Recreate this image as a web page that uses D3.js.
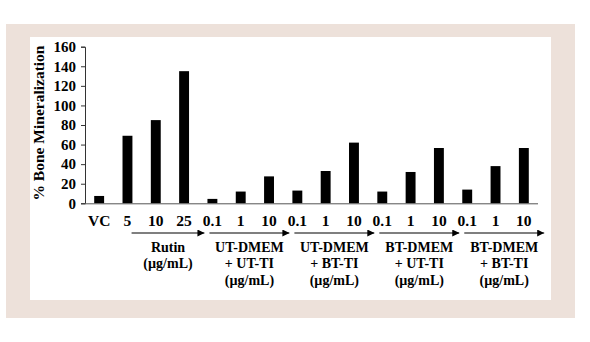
<!DOCTYPE html>
<html>
<head>
<meta charset="utf-8">
<script src="https://cdn.jsdelivr.net/npm/d3@7"></script>
<style>
  html, body { margin: 0; padding: 0; background: #ffffff; }
  svg { display: block; }
  text { font-family: "Liberation Serif", "Times New Roman", serif; font-weight: bold; fill: #000; }
</style>
</head>
<body>
<svg id="chart" width="590" height="342"></svg>
<script>
// Treatments along the x axis (ids are unique, labels are what is printed)
const categoryIds = ["VC", "R5", "R10", "R25",
  "UU0.1", "UU1", "UU10",
  "UB0.1", "UB1", "UB10",
  "BU0.1", "BU1", "BU10",
  "BB0.1", "BB1", "BB10"];
const categoryLabels = ["VC", "5", "10", "25",
  "0.1", "1", "10",
  "0.1", "1", "10",
  "0.1", "1", "10",
  "0.1", "1", "10"];
// % bone mineralization per treatment
const mineralization = [7.5, 69, 85, 135,
  4.5, 12, 27.5,
  13, 33, 62,
  12, 32, 56.5,
  14, 38, 56.5];
const yTicks = [0, 20, 40, 60, 80, 100, 120, 140, 160];
// Dose groups drawn with an arrow under their tick labels
const groups = [
  { first: "R5",    last: "R25",  lines: ["Rutin", "(\u00b5g/mL)"] },
  { first: "UU0.1", last: "UU10", lines: ["UT-DMEM", "+ UT-TI", "(\u00b5g/mL)"] },
  { first: "UB0.1", last: "UB10", lines: ["UT-DMEM", "+ BT-TI", "(\u00b5g/mL)"] },
  { first: "BU0.1", last: "BU10", lines: ["BT-DMEM", "+ UT-TI", "(\u00b5g/mL)"] },
  { first: "BB0.1", last: "BB10", lines: ["BT-DMEM", "+ BT-TI", "(\u00b5g/mL)"] }
];

const svg = d3.select("#chart");

// framed panel
svg.append("rect").attr("x", 6).attr("y", 24).attr("width", 569).attr("height", 294).attr("fill", "#ede1da");
svg.append("rect").attr("x", 30).attr("y", 37).attr("width", 521).attr("height", 263).attr("fill", "#ffffff");

const plot = { left: 85, right: 538, top: 46.7, bottom: 203.3 };

const x = d3.scaleBand()
  .domain(categoryIds)
  .range([plot.left, plot.right])
  .paddingInner(0.65)
  .paddingOuter(0.325);

const y = d3.scaleLinear()
  .domain([0, 160])
  .range([plot.bottom, plot.top]);

// bars
svg.append("g").selectAll("rect")
  .data(mineralization)
  .join("rect")
  .attr("x", (d, i) => x(categoryIds[i]))
  .attr("y", d => y(d))
  .attr("width", x.bandwidth())
  .attr("height", d => y(0) - y(d))
  .attr("fill", "#000");

// y axis
const yAxis = svg.append("g")
  .attr("transform", `translate(${plot.left},0)`)
  .call(d3.axisLeft(y).tickValues(yTicks).tickSize(4).tickPadding(5));
yAxis.selectAll("path, line").attr("stroke", "#333").attr("stroke-width", 1);
yAxis.selectAll("text")
  .style("font-family", "'Liberation Serif', 'Times New Roman', serif")
  .style("font-weight", "bold")
  .style("font-size", "15px")
  .attr("fill", "#000");

// x axis: baseline with the treatment labels below
const xAxis = svg.append("g")
  .attr("transform", `translate(0,${plot.bottom})`)
  .call(d3.axisBottom(x).tickSize(0).tickPadding(12)
    .tickFormat((d, i) => categoryLabels[i]));
xAxis.select(".domain").attr("stroke", "#555").attr("stroke-width", 1)
  .attr("d", `M${plot.left},0.5H${plot.right}`);
xAxis.selectAll("text")
  .style("font-family", "'Liberation Serif', 'Times New Roman', serif")
  .style("font-weight", "bold")
  .style("font-size", "15.5px")
  .attr("fill", "#000");

// arrow marker
svg.append("defs").append("marker")
  .attr("id", "arrowhead")
  .attr("viewBox", "0 0 10 10")
  .attr("refX", 10).attr("refY", 5)
  .attr("markerWidth", 7).attr("markerHeight", 7)
  .attr("markerUnits", "userSpaceOnUse")
  .attr("orient", "auto")
  .append("path").attr("d", "M0,0L10,5L0,10Z").attr("fill", "#000");

const arrowY = 233;
const groupG = svg.append("g");
groups.forEach(g => {
  const x0 = x(g.first) + (g.first === "R5" ? x.step() * 0.32 : 2);
  const x1 = x(g.last) + x.step() - 3;
  groupG.append("line")
    .attr("x1", x0).attr("x2", x1)
    .attr("y1", arrowY).attr("y2", arrowY)
    .attr("stroke", "#000").attr("stroke-width", 1.2)
    .attr("marker-end", "url(#arrowhead)");
  const cx = (x0 + x1) / 2;
  const t = groupG.append("text")
    .attr("text-anchor", "middle")
    .style("font-size", "14px");
  g.lines.forEach((line, k) => {
    t.append("tspan").attr("x", cx).attr("y", 251.5 + k * 16.5).text(line);
  });
});

// y axis title
svg.append("text")
  .attr("transform", `translate(44,${(plot.top + plot.bottom) / 2 - 2}) rotate(-90)`)
  .attr("text-anchor", "middle")
  .style("font-size", "15.5px")
  .text("% Bone Mineralization");
</script>
</body>
</html>
